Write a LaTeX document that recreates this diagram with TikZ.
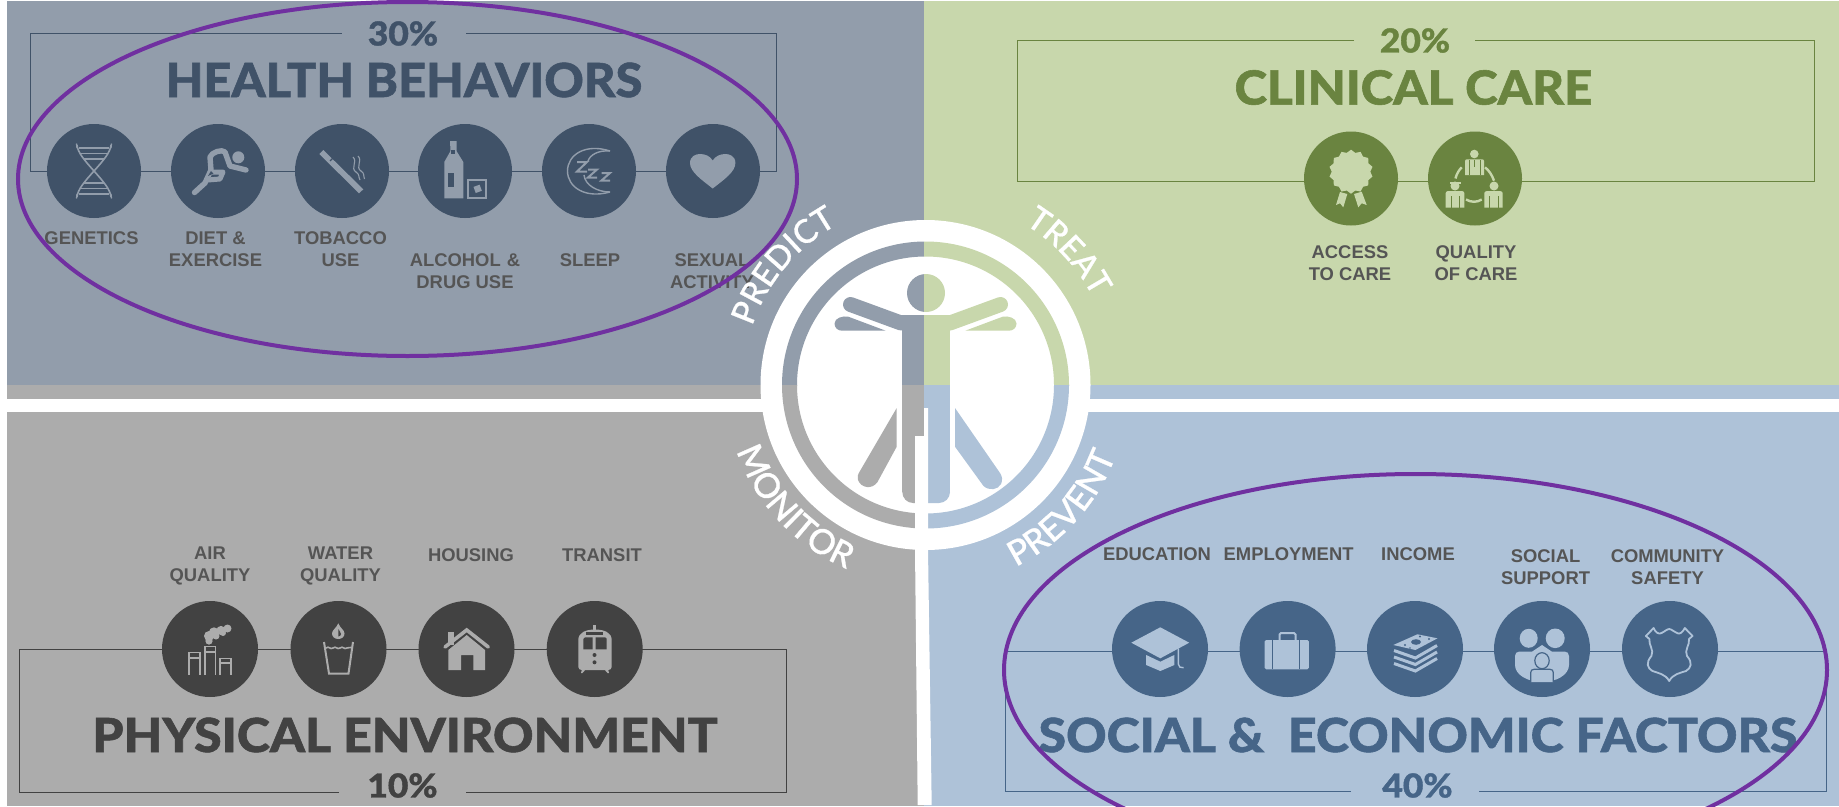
\documentclass[tikz,border=0pt]{standalone}
\usepackage{graphicx}
\usepackage{fontspec}
\usetikzlibrary{shapes.geometric,decorations.text}
\newfontfamily\latofam[FakeBold=1.2]{Lato Heavy}
\newfontfamily\latomed[FakeBold=0.7]{Lato Medium}
\newfontfamily\arialfam{Liberation Sans}
\definecolor{tlbg}{HTML}{929DAB}\definecolor{tlfg}{HTML}{405268}
\definecolor{trbg}{HTML}{C8D7AC}\definecolor{trfg}{HTML}{6A8440}
\definecolor{blbg}{HTML}{ACACAC}\definecolor{blfg}{HTML}{424242}
\definecolor{brbg}{HTML}{AEC2D8}\definecolor{brfg}{HTML}{466588}
\definecolor{labc}{HTML}{555555}\definecolor{purp}{HTML}{7030A0}
\newcommand\arcfnt{\latomed\fontsize{33}{33}\selectfont}
\newcommand\arcfntb{\latomed\fontsize{34.5}{35}\selectfont}
\tikzset{
 disc/.style={circle,inner sep=0pt,minimum size=94pt,fill=#1},
 discb/.style={circle,inner sep=0pt,minimum size=96pt,fill=#1},
 lab/.style={font=\arialfam\bfseries\fontsize{18.4}{22}\selectfont,text=labc,align=center,inner sep=0pt},
 ttl/.style={font=\latofam\fontsize{47}{47}\selectfont,text=#1,inner sep=0pt},
 pct/.style={font=\latofam\fontsize{33}{33}\selectfont,text=#1,inner sep=0pt},
 frame/.style={draw=#1,line width=0.9pt},
 ell/.style={draw=purp,line width=4pt},
}
% ring and figure, in one colour
\newcommand\vitruv[1]{%
 \fill[#1,even odd rule] (c) circle[radius=143.5] (c) circle[radius=128.5];
 \fill[#1] (926,293) circle[radius=19];
 \fill[#1] (902.3,315) rectangle (950,492);
 \fill[#1] (902.3,492) .. controls (902.3,498) and (907,503) .. (913,503) -- (939,503) .. controls (945,503) and (950,498) .. (950,492) -- cycle;
 \draw[#1,line width=15pt,line cap=round] (850.5,304.5) -- (901,323);
 \draw[#1,line width=15pt,line cap=round] (1000.5,304.5) -- (950,323);
 \fill[#1] (926,315) -- (897,315) -- (902.3,331) -- (950,331) -- (954,315) -- cycle;
 \fill[#1] (885.7,330.7) -- (848.3,316.7) .. controls (843,315.5) and (834.5,318) .. (834.5,323.5) .. controls (834.5,328) and (838,330.7) .. (842,330.7) -- cycle;
 \fill[#1] (965.3,330.7) -- (1002.7,316.7) .. controls (1008,315.5) and (1016.5,318) .. (1016.5,323.5) .. controls (1016.5,328) and (1013,330.7) .. (1009,330.7) -- cycle;
 \fill[#1] (896.7,408) -- (896.7,446.7) -- (877.5,482) .. controls (872,490) and (861,488) .. (858,480) .. controls (857,477) and (858,474) .. (860,471) -- cycle;
 \fill[#1] (955,408) -- (955,446.7) -- (983.5,486) .. controls (989,491) and (998,490) .. (1001,484) .. controls (1003,480) and (1002,476) .. (1000,473) -- cycle;
}
\begin{document}
\begin{tikzpicture}[x=1pt,y=-1pt]
\useasboundingbox (0,0) rectangle (1839,806);
\clip (0,0) rectangle (1839,806);
\fill[white] (0,0) rectangle (1839,806);
\coordinate (c) at (925.5,385);
% panels
\fill[tlbg] (7,1) rectangle (924,385);
\fill[trbg] (924,1) rectangle (1839,385);
\fill[blbg] (7,385) rectangle (924,399);
\fill[brbg] (924,385) rectangle (1839,399);
\fill[blbg] (7,412) rectangle (924,806);
\fill[brbg] (924,412) rectangle (1839,806);
% frames
\coordinate (tla) at (341.5,33.5);\coordinate (tlb) at (465.5,33.5);
\draw[frame=tlfg] (tla) -- (30,33.5) -- (30,171.5) -- (776,171.5) -- (776,33.5) -- (tlb);
\coordinate (tra) at (1354,40.7);\coordinate (trb) at (1475,40.7);
\draw[frame=trfg] (tra) -- (1017,40.7) -- (1017,181) -- (1814,181) -- (1814,40.7) -- (trb);
\coordinate (bla) at (339,792.7);\coordinate (blb) at (465.5,792.7);
\draw[frame=blfg] (bla) -- (19,792.7) -- (19,649.7) -- (786,649.7) -- (786,792.7) -- (blb);
\coordinate (bra) at (1351,791);\coordinate (brb) at (1479,791);
\draw[frame=brfg] (bra) -- (1005,791) -- (1005,651) -- (1826,651) -- (1826,791) -- (brb);
% discs
\foreach \n/\x in {g1/94,g2/218,g3/342,g4/465,g5/589,g6/713}{\node[disc=tlfg] (\n) at (\x,171) {};}
\foreach \n/\x in {k1/1351,k2/1475}{\node[disc=trfg] (\n) at (\x,178.5) {};}
\foreach \n/\x in {e1/210,e2/338.5,e3/466.5,e4/594.7}{\node[discb=blfg] (\n) at (\x,649) {};}
\foreach \n/\x in {s1/1160,s2/1287.6,s3/1415,s4/1542,s5/1670}{\node[discb=brfg] (\n) at (\x,649) {};}
% titles
\node[pct=tlfg] (p30) at (403,33.5) {\scalebox{1.07}[1]{30\%}};
\node[ttl=tlfg] (t1) at (404,80) {\scalebox{1.038}[1]{HEALTH BEHAVIORS}};
\node[pct=trfg] (p20) at (1415,40.5) {\scalebox{1.07}[1]{20\%}};
\node[ttl=trfg] (t2) at (1413.5,87.5) {\scalebox{1.048}[1]{CLINICAL CARE}};
\node[ttl=blfg] (t3) at (405,735) {\scalebox{1.066}[1]{PHYSICAL ENVIRONMENT}};
\node[pct=blfg] (p10) at (402.5,785.5) {\scalebox{1.07}[1]{10\%}};
\node[ttl=brfg] (t4) at (1418,735) {\scalebox{1.064}[1]{SOCIAL \&\ \ ECONOMIC FACTORS}};
\node[pct=brfg] (p40) at (1417.5,785.5) {\scalebox{1.07}[1]{40\%}};
% labels
\node[lab] (l1) at (91.5,238.2) {GENETICS};
\node[lab] (l2) at (215.5,249.2) {DIET \&\\EXERCISE};
\node[lab] (l3) at (340.5,249.2) {TOBACCO\\USE};
\node[lab] (l4) at (465,271.2) {ALCOHOL\,\,\&\\DRUG USE};
\node[lab] (l5) at (590,260.2) {SLEEP};
\node[lab] (l6) at (712,271.2) {SEXUAL\\ACTIVITY};
\node[lab] (l7) at (1350,263) {ACCESS\\TO CARE};
\node[lab] (l8) at (1476,263) {QUALITY\\OF CARE};
\node[lab] (l9) at (210,565.9) {AIR\\QUALITY};
\node[lab] (l10) at (340.5,565.9) {WATER\\QUALITY};
\node[lab] (l11) at (471,554.7) {HOUSING};
\node[lab] (l12) at (602,554.7) {TRANSIT};
\node[lab] (l13) at (1157,554.2) {EDUCATION};
\node[lab] (l14) at (1288.6,554.2) {EMPLOYMENT};
\node[lab] (l15) at (1418,554.2) {INCOME};
\node[lab] (l16) at (1545.6,566.7) {SOCIAL\\SUPPORT};
\node[lab] (l17) at (1667.5,566.7) {COMMUNITY\\SAFETY};
% --- icons: DNA
\begin{scope}[draw=tlbg,line width=1.6pt]
 \draw (77,145) .. controls (78,160) and (110,182) .. (111,197);
 \draw (111,145) .. controls (110,160) and (78,182) .. (77,197);
 \foreach \y/\w in {148/15,153.5/14,159/10,183/10,188.5/14,194/15}{\draw (94-\w,\y) -- (94+\w,\y);}
 \draw[line width=1.3pt] (76.5,143.5) -- (77,148) (111.5,143.5) -- (111,148) (76.5,198.5) -- (77,194) (111.5,198.5) -- (111,194);
\end{scope}
% runner
\fill[tlbg] (238.3,157.3) circle[radius=6];
\draw[tlbg,line width=5.4pt,line cap=round,line join=round] (194.5,192.5) -- (205,183) -- (211,170) -- (210,157) .. controls (212,152) and (222,149) .. (225,152) -- (230,166) -- (246,170);
\draw[tlbg,line width=5pt,line cap=round,line join=round] (211,172) -- (223,172) -- (220,179) -- (208,180);
\fill[tlfg] (211,171) -- (213.5,173.5) -- (208,176) -- cycle;
% cigarette
\fill[tlbg] (319.3,154) -- (323.3,150) -- (363.3,189.3) -- (359,193.3) -- cycle;
\draw[tlfg,line width=1.3pt] (330,161) -- (334.5,156.5);
\draw[tlbg,line width=1.1pt] (353,157) .. controls (358,162) and (350,168) .. (356,172) .. controls (360,175) and (358,176) .. (360,180);
\draw[tlbg,line width=1.1pt] (358,156) .. controls (363,161) and (355,167) .. (361,171) .. controls (365,174) and (363,175) .. (364.5,179);
% bottle
\fill[tlbg] (450,141) -- (456.5,141) -- (456.5,151) -- (463.3,162) -- (463.3,198.3) -- (444.3,198.3) -- (444.3,162) -- (450.5,151) -- cycle;
\fill[tlfg] (447.7,173) rectangle (454,186.7);
\fill[tlfg] (451,150) rectangle (455,153.5);
\draw[tlbg,line width=2pt] (467.5,180) -- (467.5,197.5) -- (485.5,197.5) -- (485.5,180) -- cycle;
\fill[tlbg,rotate around={20:(478,189)}] (474.5,185.5) rectangle (481,192);
% moon
\begin{scope}[draw=tlbg,line width=1.4pt]
 \draw (610,151) .. controls (585,143) and (567.5,155) .. (567.5,171) .. controls (567.5,187) and (585,199) .. (610,192);
 \draw (610,151) .. controls (598,150) and (590,155) .. (588,161);
 \draw (584,175) .. controls (585,185) and (597,192) .. (610,192);
 \draw[line width=2pt] (577,162) -- (587,162) -- (577,171.5) -- (587,171.5);
 \draw[line width=2pt] (588,169.5) -- (597,169.5) -- (588,177.5) -- (597,177.5);
 \draw[line width=2pt] (601.5,173) -- (610,173) -- (601.5,180.5) -- (610,180.5);
\end{scope}
% heart
\fill[tlbg] (712.7,188.5) .. controls (702,180) and (690,172) .. (690,163) .. controls (690,156) and (696,154) .. (700,154) .. controls (705,154) and (710,156) .. (712.7,160.5) .. controls (715.4,156) and (720.4,154) .. (725.4,154) .. controls (729.4,154) and (735.4,156) .. (735.4,163) .. controls (735.4,172) and (723.4,180) .. (712.7,188.5) -- cycle;
% rosette
\fill[trbg] (1340,192) -- (1347.3,194) -- (1343.3,207.3) -- (1340,203.3) -- (1336,205) -- cycle;
\fill[trbg] (1354,194) -- (1361.7,191.7) -- (1366.7,205) -- (1361.7,203.3) -- (1358.3,207.3) -- cycle;
\node[star,star points=14,star point ratio=1.14,minimum size=44pt,inner sep=0pt,fill=trbg] (rosette) at (1351,171.7) {};
% people
\fill[trbg] (1474.3,154) circle[radius=4.3] (1455,186) circle[radius=4.5] (1494,186) circle[radius=4.5];
\fill[trbg] (1465,161) .. controls (1465,160) and (1466,159.3) .. (1467,159.3) -- (1482,159.3) .. controls (1483,159.3) and (1484,160) .. (1484,161) -- (1484,175) -- (1465,175) -- cycle;
\fill[trbg] (1445.7,193) .. controls (1445.7,192) and (1447,191) .. (1448,191) -- (1462,191) .. controls (1463,191) and (1464.3,192) .. (1464.3,193) -- (1464.3,207.7) -- (1445.7,207.7) -- cycle;
\fill[trbg] (1484.3,193) .. controls (1484.3,192) and (1486,191) .. (1487,191) -- (1500,191) .. controls (1501,191) and (1502.7,192) .. (1502.7,193) -- (1502.7,207.7) -- (1484.3,207.7) -- cycle;
\draw[trfg,line width=1pt] (1474.3,160) -- (1474.3,167) (1469,160) -- (1469,175) (1480,160) -- (1480,175) (1451,196) -- (1451,207.7) (1459,196) -- (1459,207.7) (1489,196) -- (1489,207.7) (1498,196) -- (1498,207.7);
\fill[trbg] (1449.5,182) rectangle (1460.5,183.5);
\draw[trbg,line width=2.4pt] (1455.5,178.5) .. controls (1456.5,174) and (1459,170) .. (1461.7,167.3);
\draw[trbg,line width=2.4pt] (1485,167.3) .. controls (1489,170.5) and (1492,175) .. (1494,180.7);
\draw[trbg,line width=2.4pt] (1466,199.5) .. controls (1471,202.5) and (1477,202.5) .. (1481.7,199.5);
% factory
\begin{scope}[draw=blbg,line width=1.6pt]
 \draw (189,675) -- (189,652.5) -- (200,652.5) -- (200,675) (189,658) -- (200,658);
 \draw (205,675) -- (205,646.5) -- (215.5,646.5) -- (215.5,675) (205,652) -- (215.5,652);
 \draw (220,675) -- (220,658.5) -- (231,658.5) -- (231,675) (220,663) -- (231,663);
\end{scope}
\fill[blbg] (209,641) circle[radius=3.6] (209,636) circle[radius=5] (214,632.5) circle[radius=5.2] (221,630.5) circle[radius=4.6] (227.5,628.5) circle[radius=4] (216,636) circle[radius=3.5] (223,633) circle[radius=3];
% water glass
\draw[blbg,line width=2pt] (324,642) -- (329,673.5) -- (348.5,673.5) -- (353,642);
\draw[blbg,line width=1.6pt] (326,648) .. controls (329,645.5) and (330,650) .. (333,648) .. controls (336,645.5) and (337,650) .. (340,648) .. controls (343,645.5) and (344,650) .. (347,648) .. controls (349,646) and (350,649) .. (352,647.5);
\fill[blbg] (338.3,623.3) .. controls (340,628) and (344.5,630) .. (344.5,633.5) .. controls (344.5,637) and (341.5,639) .. (338.3,639) .. controls (335,639) and (332,637) .. (332,633.5) .. controls (332,630) and (336.5,628) .. (338.3,623.3) -- cycle;
\fill[blfg] (338.3,629) .. controls (339,631) and (341,632) .. (341,634) .. controls (341,635.5) and (339.5,636.5) .. (338.3,636.5) -- cycle;
% house
\fill[blbg] (448.3,631.7) rectangle (454,645);
\fill[blbg] (448.3,650) -- (466.7,635) -- (485,650) -- (485,670) -- (473.3,670) -- (473.3,655) -- (461,655) -- (461,670) -- (448.3,670) -- cycle;
\draw[blbg,line width=3.6pt,line cap=round,line join=miter] (445,647) -- (466.7,630) -- (488.3,647);
% train
\fill[blbg] (592.7,625) rectangle (595.7,632);
\fill[blbg] (578.3,640) .. controls (578.3,633) and (585,629.5) .. (595,629.5) .. controls (605,629.5) and (611.7,633) .. (611.7,640) -- (611.7,667) .. controls (611.7,669) and (610,670) .. (608,670) -- (582,670) .. controls (580,670) and (578.3,669) .. (578.3,667) -- cycle;
\fill[blbg] (582,669) -- (586,669) -- (582.5,673) -- (581,673) -- cycle (608,669) -- (604,669) -- (607.5,673) -- (609,673) -- cycle;
\fill[blfg] (586,632.3) rectangle (602.7,635);
\fill[blfg] (583.3,639) .. controls (583.3,638) and (584,637.3) .. (585,637.3) -- (592.7,637.3) -- (592.7,649.3) -- (583.3,649.3) -- cycle;
\fill[blfg] (595.7,637.3) -- (604.5,637.3) .. controls (605.5,637.3) and (606.7,638) .. (606.7,639) -- (606.7,649.3) -- (595.7,649.3) -- cycle;
\fill[blfg] (594.5,655) circle[radius=2] (594.5,662.3) circle[radius=2];
% grad cap
\fill[brbg] (1131.3,642.7) -- (1160.3,627.3) -- (1189.2,642.7) -- (1160.3,658.3) -- cycle;
\fill[brbg] (1146.2,655) -- (1160.3,661.7) -- (1174.3,655) -- (1174.3,665) -- (1160.3,671) -- (1146.2,665) -- cycle;
\draw[brbg,line width=1.4pt] (1178.3,648.3) -- (1178.3,664) .. controls (1178.5,667) and (1180.5,668) .. (1183.6,667.7);
% briefcase
\draw[brbg,line width=2pt,rounded corners=1.5pt] (1279.5,640) -- (1279.5,633) -- (1295.5,633) -- (1295.5,640);
\fill[brbg,rounded corners=1.5pt] (1264.7,640) rectangle (1308.9,669.3);
\draw[brfg,line width=1.3pt] (1272.8,640) -- (1272.8,669.3) (1299.7,640) -- (1299.7,669.3);
% money
\fill[brbg] (1393.3,645) -- (1417.4,634.3) -- (1437.5,638.3) -- (1415.4,650) -- cycle;
\fill[brfg] (1416,642) ellipse[x radius=5,y radius=2.8];
\fill[brfg] (1405,645) circle[radius=1.1] (1429,639) circle[radius=1.1] (1420,636.5) circle[radius=1.1] (1410,648) circle[radius=.8];
\foreach \d in {0,6.5,13}{\draw[brbg,line width=3pt] (1394,650.5+\d) -- (1415.4,658+\d) -- (1437,645.5+\d);}
% family
\fill[brbg] (1528.7,638.3) ellipse[x radius=9,y radius=9.5];
\fill[brbg] (1555.2,638.3) ellipse[x radius=9.5,y radius=9.8];
\fill[brbg] (1515,656) -- (1515,665) .. controls (1515,675) and (1528,682) .. (1542,682) .. controls (1556,682) and (1569,675) .. (1569,665) -- (1569,656) .. controls (1569,653) and (1567,651.7) .. (1565,651.7) -- (1552,651.7) -- (1542,645) -- (1532,651.7) -- (1519,651.7) .. controls (1517,651.7) and (1515,653) .. (1515,656) -- cycle;
\draw[brfg,line width=1.2pt,fill=brbg] (1530.7,682) -- (1530.7,672.5) .. controls (1530.7,670.5) and (1532,669.3) .. (1534,669.3) -- (1550,669.3) .. controls (1552,669.3) and (1553.3,670.5) .. (1553.3,672.5) -- (1553.3,682);
\draw[brfg,line width=1.2pt,fill=brbg] (1542,660.7) ellipse[x radius=7.2,y radius=8];
% shield
\draw[brbg,line width=1.8pt,line join=round] (1653.6,628) .. controls (1655,632) and (1659,635) .. (1661.5,633) .. controls (1664,632) and (1667,629) .. (1669.2,629) .. controls (1671.4,629) and (1674,632) .. (1677,633) .. controls (1679.5,635) and (1683,632) .. (1684.8,628) -- (1692.5,636) -- (1689,639) .. controls (1690,645) and (1684,650) .. (1687,656) .. controls (1693,663) and (1691,668) .. (1686,671) .. controls (1680,673) and (1673,674) .. (1669.2,681) .. controls (1665.4,674) and (1658,673) .. (1652.4,671) .. controls (1647.4,668) and (1645.4,663) .. (1651.4,656) .. controls (1654.4,650) and (1648.4,645) .. (1649.4,639) -- (1645.9,636) -- cycle;
% centre medallion
\fill[white] (c) circle[radius=165];
\begin{scope}\clip (0,0) rectangle (924,385.5);\vitruv{tlbg}\end{scope}
\begin{scope}\clip (924,0) rectangle (1839,385.5);\vitruv{trbg}\end{scope}
\begin{scope}\clip (0,385.5) rectangle (924,806);\vitruv{blbg}\end{scope}
\begin{scope}\clip (924,385.5) rectangle (1839,806);\vitruv{brbg}\end{scope}
% white bars
\fill[white] (0,399) rectangle (761,412);
\fill[white] (1090,399) rectangle (1839,412);
\fill[white] (915,436) -- (915,549) -- (917.7,805) -- (931.7,805) -- (928,549) -- (928,408) -- (924,408) -- (924,436) -- cycle;
% arc words
\path[decorate,decoration={text along path,text align=center,text={|\arcfnt\color{white}|PREDICT}}] (c) ++(197:183) arc[start angle=197,end angle=243,radius=183];
\path[decorate,decoration={text along path,text align=center,text={|\arcfnt\color{white}|TREAT}}] (c) ++(300:189) arc[start angle=300,end angle=334,radius=189];
\path[decorate,decoration={text along path,text align=center,text={|\arcfntb\color{white}|MONITOR}}] (c) ++(160:200) arc[start angle=160,end angle=114,radius=200];
\path[decorate,decoration={text along path,text align=center,text={|\arcfntb\color{white}|PREVENT}}] (c) ++(65:203) arc[start angle=65,end angle=19,radius=203];
% ellipses
\draw[ell] (407.5,179) ellipse[x radius=389.5,y radius=177];
\draw[ell] (1415.5,670) ellipse[x radius=411.5,y radius=196];
\end{tikzpicture}
\end{document}
